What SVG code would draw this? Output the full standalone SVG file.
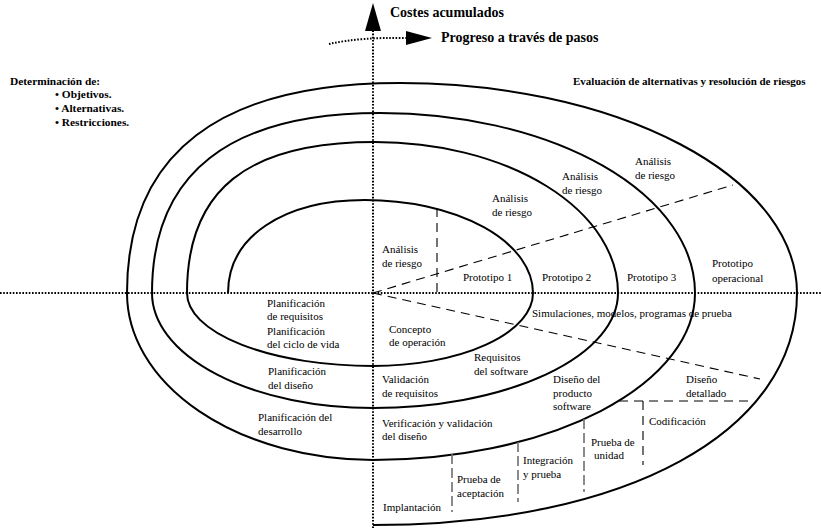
<svg xmlns="http://www.w3.org/2000/svg" width="821" height="528" viewBox="0 0 821 528">
<style>
.t{font-family:"Liberation Serif","Times New Roman",serif;font-size:11px;fill:#000}
.h{font-family:"Liberation Serif","Times New Roman",serif;font-weight:bold;fill:#000}
.ax{stroke:#000;stroke-width:2;stroke-dasharray:1.6 1.6;fill:none}
.sp{stroke:#000;stroke-width:2;fill:none}
.ds{stroke:#000;stroke-width:1.1;stroke-dasharray:9 6;fill:none}
.gd{stroke:#6e6e6e;stroke-width:1.6;stroke-dasharray:10 4;fill:none}
</style>
<rect width="821" height="528" fill="#fff"/>
<g id="axes">
<line class="ax" x1="373" y1="24" x2="373" y2="528"/>
<line class="ax" x1="0" y1="293" x2="821" y2="293"/>
<polygon points="373,3 365,31 381,31" fill="#000"/>
<path class="ax" d="M329,44 Q360,37 407,38"/>
<polygon points="406,31 432,38 406,45" fill="#000"/>
</g>
<g id="spiral">
<path class="sp" d="M228,293 C228,237 283,200 365,200 A168,93 0 0 1 533,293 A160,73 0 0 1 373,366 A186,73 0 0 1 187,293 C187,190 247,142 375,142 A243,151 0 0 1 618,293 A245,115 0 0 1 373,408 A221,115 0 0 1 152,293 C152,173 230,113 380,113 A315,180 0 0 1 695,293 A322,167 0 0 1 373,460 A246,167 0 0 1 127,293 C127,153 220,83 400,83 A397,210 0 0 1 797,293 C797,432 627,525 373,525"/>
</g>
<g id="connectors">
<line class="ds" x1="437" y1="208" x2="437" y2="293"/>
<line class="ds" x1="373" y1="293" x2="733" y2="185"/>
<line class="ds" x1="373" y1="293" x2="760" y2="379"/>
<line class="ds" x1="619" y1="401" x2="748" y2="401"/>
<line class="ds" x1="643" y1="401" x2="643" y2="465"/>
<line class="gd" x1="584" y1="419" x2="584" y2="492"/>
<line class="gd" x1="518" y1="442" x2="518" y2="502"/>
<line class="gd" x1="452" y1="454" x2="452" y2="512"/>
</g>
<g id="titles">
<text class="h" x="390" y="17" font-size="14">Costes acumulados</text>
<text class="h" x="441" y="42" font-size="14">Progreso a través de pasos</text>
<text class="h" x="10" y="85" font-size="11.4">Determinación de:</text>
<text class="h" x="55" y="98" font-size="11.4">• Objetivos.</text>
<text class="h" x="55" y="112" font-size="11.4">• Alternativas.</text>
<text class="h" x="55" y="126" font-size="11.4">• Restricciones.</text>
<text class="h" x="573" y="85" font-size="11">Evaluación de alternativas y resolución de riesgos</text>
</g>
<g id="analisis1"><text class="t" x="382" y="253">Análisis</text><text class="t" x="382" y="267">de riesgo</text></g>
<g id="analisis2"><text class="t" x="492" y="202">Análisis</text><text class="t" x="492" y="216">de riesgo</text></g>
<g id="analisis3"><text class="t" x="562" y="180">Análisis</text><text class="t" x="562" y="194">de riesgo</text></g>
<g id="analisis4"><text class="t" x="635" y="165">Análisis</text><text class="t" x="635" y="179">de riesgo</text></g>
<g id="prototipo1"><text class="t" x="463" y="281">Prototipo 1</text></g>
<g id="prototipo2"><text class="t" x="542" y="281">Prototipo 2</text></g>
<g id="prototipo3"><text class="t" x="627" y="281">Prototipo 3</text></g>
<g id="prototipo-op"><text class="t" x="712" y="267">Prototipo</text><text class="t" x="712" y="282">operacional</text></g>
<g id="plan-req"><text class="t" x="267" y="307">Planificación</text><text class="t" x="267" y="320">de requisitos</text></g>
<g id="plan-ciclo"><text class="t" x="267" y="335">Planificación</text><text class="t" x="267" y="348">del ciclo de vida</text></g>
<g id="concepto"><text class="t" x="389" y="333">Concepto</text><text class="t" x="389" y="346">de operación</text></g>
<g id="simulaciones"><text class="t" x="532" y="317">Simulaciones, modelos, programas de prueba</text></g>
<g id="requisitos-sw"><text class="t" x="474" y="361">Requisitos</text><text class="t" x="474" y="375">del software</text></g>
<g id="plan-diseno"><text class="t" x="268" y="375">Planificación</text><text class="t" x="268" y="389">del diseño</text></g>
<g id="validacion"><text class="t" x="382" y="383">Validación</text><text class="t" x="382" y="397">de requisitos</text></g>
<g id="diseno-prod"><text class="t" x="553" y="383">Diseño del</text><text class="t" x="553" y="397">producto</text><text class="t" x="553" y="410">software</text></g>
<g id="diseno-det"><text class="t" x="686" y="383">Diseño</text><text class="t" x="686" y="397">detallado</text></g>
<g id="plan-desarrollo"><text class="t" x="258" y="421">Planificación del</text><text class="t" x="258" y="435">desarrollo</text></g>
<g id="verificacion"><text class="t" x="382" y="427">Verificación y validación</text><text class="t" x="382" y="440">del diseño</text></g>
<g id="codificacion"><text class="t" x="649" y="425">Codificación</text></g>
<g id="prueba-unidad"><text class="t" x="591" y="446">Prueba de</text><text class="t" x="594" y="459">unidad</text></g>
<g id="integracion"><text class="t" x="523" y="464">Integración</text><text class="t" x="523" y="478">y prueba</text></g>
<g id="prueba-acept"><text class="t" x="457" y="483">Prueba de</text><text class="t" x="457" y="497">aceptación</text></g>
<g id="implantacion"><text class="t" x="383" y="511">Implantación</text></g>
</svg>
